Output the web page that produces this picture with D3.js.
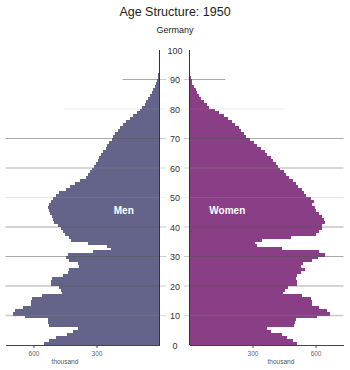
<!DOCTYPE html>
<html><head><meta charset="utf-8">
<script src="https://cdn.jsdelivr.net/npm/d3@7"></script>
<style>body{margin:0;background:#fff;}svg{display:block;}text{font-family:"Liberation Sans",Arial,sans-serif;}</style>
</head><body>
<svg id="c" width="350" height="370"></svg>
<script>
const title = "Age Structure: 1950";
const subtitle = "Germany";
const ages = d3.range(0, 100);
const men = [548,527,492,440,413,386,524,529,532,638,695,690,648,611,611,608,559,463,468,479,
516,516,511,460,437,429,381,390,429,444,437,318,230,251,341,421,429,452,460,471,
484,500,508,513,521,527,532,524,516,508,495,476,444,425,400,378,352,341,333,321,
313,302,294,286,278,267,257,251,238,225,219,210,198,187,175,159,140,127,108,95,
83,71,63,54,44,36,29,22,16,11,8,5,3,2,1,1,0,0,0,0];
const women = [513,492,465,438,390,370,497,502,508,608,667,656,616,584,584,579,536,444,454,470,
513,513,505,513,529,549,533,540,581,613,646,616,441,322,314,346,481,600,616,629,
632,644,640,632,616,603,597,584,592,576,556,544,537,517,505,492,473,460,449,433,
420,410,397,386,370,357,338,322,306,290,270,259,243,235,216,200,184,163,140,121,
95,84,68,57,44,37,29,21,13,10,6,4,3,2,1,1,0,0,0,0];
const ageTicks = d3.range(0, 101, 10);
const popTicks = [300, 600];
const unitLabel = "thousand";
const labelMen = "Men", labelWomen = "Women";

const svg = d3.select("#c");
const maxV = 733;
const xL = d3.scaleLinear().domain([0, maxV]).range([159.5, 5.5]);
const xR = d3.scaleLinear().domain([0, maxV]).range([189.5, 343.5]);
const y = d3.scaleLinear().domain([0, 100]).range([345, 50]);
const colMen = "#64648a", colWomen = "#8a3e86";

svg.append("text").attr("x",175).attr("y",16).attr("text-anchor","middle")
  .attr("font-size",12.5).attr("fill","#222").text(title);
svg.append("text").attr("x",175).attr("y",33).attr("text-anchor","middle")
  .attr("font-size",9).attr("fill","#222").text(subtitle);

// bars (slightly overlapping to avoid seams)
svg.append("g").attr("shape-rendering","crispEdges").selectAll("rect").data(ages).join("rect")
  .attr("x", d => xL(men[d])).attr("y", d => y(d + 1) - 0.5)
  .attr("width", d => xL(0) - xL(men[d])).attr("height", d => y(d) - y(d + 1) + 0.5)
  .attr("fill", colMen);
svg.append("g").attr("shape-rendering","crispEdges").selectAll("rect").data(ages).join("rect")
  .attr("x", xR(0)).attr("y", d => y(d + 1) - 0.5)
  .attr("width", d => xR(women[d]) - xR(0)).attr("height", d => y(d) - y(d + 1) + 0.5)
  .attr("fill", colWomen);

// gridlines
const gridStyle = {
  90: {l: 176, r: 171, c: "#555", o: 0.5, w: 1},
  80: {l: 457, r: 448, c: "#999", o: 0.2, w: 1},
  70: {l: maxV, r: maxV, c: "#555", o: 0.5, w: 1},
  60: {l: maxV, r: maxV, c: "#777", o: 0.4, w: 1.5},
  50: {l: maxV, r: maxV, c: "#999", o: 0.25, w: 1},
  40: {l: maxV, r: maxV, c: "#555", o: 0.5, w: 1},
  30: {l: maxV, r: maxV, c: "#555", o: 0.5, w: 1},
  20: {l: maxV, r: maxV, c: "#555", o: 0.5, w: 1},
  10: {l: maxV, r: maxV, c: "#777", o: 0.4, w: 1.5}
};
const gg = svg.append("g");
ageTicks.filter(t => gridStyle[t]).forEach(t => {
  const s = gridStyle[t];
  gg.append("line").attr("x1", xL(s.l)).attr("x2", xL(0)).attr("y1", y(t)).attr("y2", y(t))
    .attr("stroke", s.c).attr("stroke-opacity", s.o).attr("stroke-width", s.w);
  gg.append("line").attr("x1", xR(0)).attr("x2", xR(s.r)).attr("y1", y(t)).attr("y2", y(t))
    .attr("stroke", s.c).attr("stroke-opacity", s.o).attr("stroke-width", s.w);
  gg.append("line").attr("x1", xL(0)).attr("x2", 166).attr("y1", y(t)).attr("y2", y(t))
    .attr("stroke", s.c).attr("stroke-opacity", s.o * 0.6);
  gg.append("line").attr("x1", 184).attr("x2", xR(0)).attr("y1", y(t)).attr("y2", y(t))
    .attr("stroke", s.c).attr("stroke-opacity", s.o * 0.6);
});

// vertical axis lines
svg.append("line").attr("x1", xL(0)).attr("x2", xL(0)).attr("y1", y(100)).attr("y2", y(0))
  .attr("stroke", "#333").attr("stroke-width", 1);
svg.append("line").attr("x1", xR(0)).attr("x2", xR(0)).attr("y1", y(100)).attr("y2", y(0))
  .attr("stroke", "#333").attr("stroke-width", 1);

// age labels
svg.append("g").selectAll("text").data(ageTicks).join("text")
  .attr("x", 175).attr("y", d => y(d) + 3.5).attr("text-anchor", "middle")
  .attr("font-size", 9).attr("fill", "#333").text(d => d);

// bottom axes
function styleAxis(g) {
  g.select(".domain").attr("stroke", "#444");
  g.selectAll(".tick line").attr("stroke", "#444");
  g.selectAll(".tick text").attr("font-size", 6.5).attr("fill", "#666")
    .attr("font-family", "'Liberation Sans',Arial,sans-serif");
}
svg.append("g").attr("transform", `translate(0,${y(0)})`)
  .call(d3.axisBottom(xL).tickValues(popTicks).tickSize(3).tickSizeOuter(0).tickPadding(3))
  .call(styleAxis);
svg.append("g").attr("transform", `translate(0,${y(0)})`)
  .call(d3.axisBottom(xR).tickValues(popTicks).tickSize(3).tickSizeOuter(0).tickPadding(3))
  .call(styleAxis);
svg.append("text").attr("x", xL(450)).attr("y", 364).attr("text-anchor", "middle")
  .attr("font-size", 6.5).attr("fill", "#555").text(unitLabel);
svg.append("text").attr("x", xR(435)).attr("y", 364).attr("text-anchor", "middle")
  .attr("font-size", 6.5).attr("fill", "#555").text(unitLabel);

// series labels
svg.append("text").attr("x", xL(170)).attr("y", y(44.5)).attr("text-anchor", "middle")
  .attr("font-size", 10).attr("font-weight", "bold").attr("fill", "#fff").text(labelMen);
svg.append("text").attr("x", xR(180)).attr("y", y(44.5)).attr("text-anchor", "middle")
  .attr("font-size", 10).attr("font-weight", "bold").attr("fill", "#fff").text(labelWomen);
</script>
</body></html>
